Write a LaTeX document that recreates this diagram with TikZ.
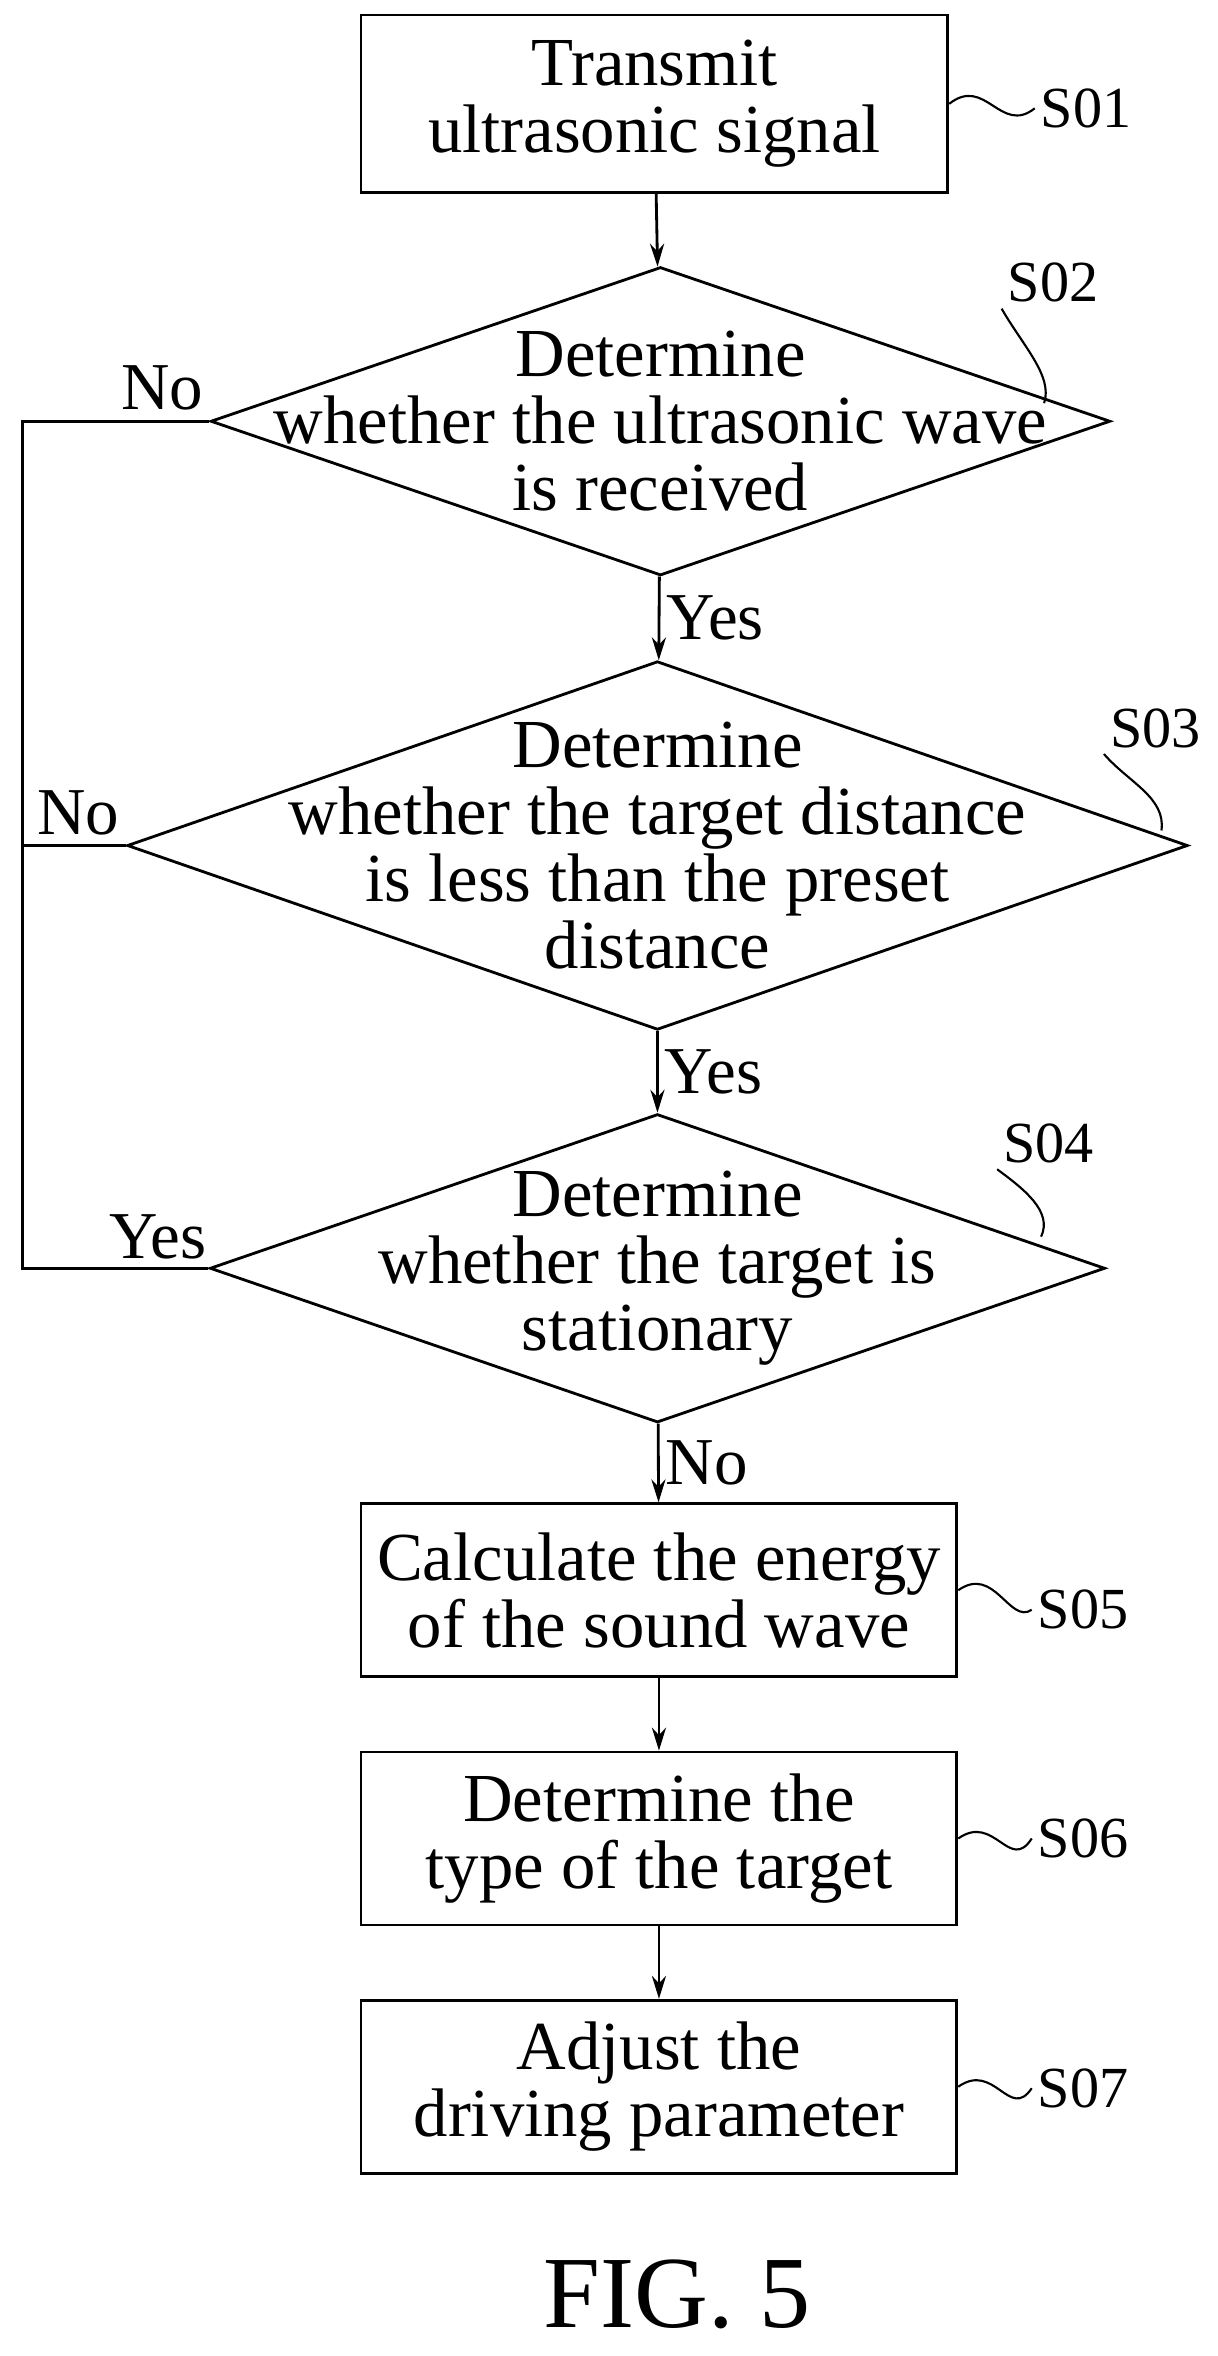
\documentclass[tikz,border=0pt]{standalone}
\usepackage{fontspec}
\setmainfont{Liberation Serif}
\usetikzlibrary{arrows.meta,positioning,shapes.geometric}
\tikzset{
    proc/.style={draw, rectangle, line width=1.6pt, inner sep=0pt},
    test/.style={draw, diamond, line width=1.6pt, inner sep=0pt},
    words/.style={align=center, font=\fontsize{39}{38}\selectfont},
    tag/.style={font=\fontsize{33}{36}\selectfont},
    ans/.style={font=\fontsize{38}{40}\selectfont},
    flow/.style={line width=1.6pt, -{Stealth[length=13pt,width=8pt]}},
    link/.style={line width=1.6pt},
    wig/.style={line width=1.2pt}
}
\begin{document}
\begin{tikzpicture}[x=0.03cm,y=-0.03cm]
\useasboundingbox (0,0) rectangle (809,1566);
% process steps
\node[proc, minimum width=390*0.03cm, minimum height=118*0.03cm] (Transmit) at (435,69) {};
\node[words] at (Transmit) {Transmit\\ultrasonic signal};
\node[test, minimum width=598*0.03cm, minimum height=205*0.03cm] (Received) at (439,280) {};
\node[words] at (Received) {Determine\\whether the ultrasonic wave\\is received};
\node[test, minimum width=705*0.03cm, minimum height=245*0.03cm] (Distance) at (437,562) {};
\node[words] at (Distance) {Determine\\whether the target distance\\is less than the preset\\distance};
\node[test, minimum width=595*0.03cm, minimum height=205*0.03cm] (Stationary) at (437,843) {};
\node[words] at (Stationary) {Determine\\whether the target is\\stationary};
\node[proc, minimum width=396*0.03cm, minimum height=115*0.03cm] (Energy) at (438,1057) {};
\node[words] at (Energy) {Calculate the energy\\of the sound wave};
\node[proc, minimum width=396*0.03cm, minimum height=115*0.03cm] (Type) at (438,1222) {};
\node[words] at (Type) {Determine the\\type of the target};
\node[proc, minimum width=396*0.03cm, minimum height=115*0.03cm] (Adjust) at (438,1387) {};
\node[words] at (Adjust) {Adjust the\\driving parameter};
% step labels
\node[tag] (s1) at (722,72) {S01};
\node[tag] (s2) at (700,188) {S02};
\node[tag] (s3) at (768,484) {S03};
\node[tag] (s4) at (697,760) {S04};
\node[tag] (s5) at (720,1070) {S05};
\node[tag] (s6) at (720,1222) {S06};
\node[tag] (s7) at (720,1388) {S07};
\draw[wig] (Transmit.east) .. controls (655,50) and (665,90) .. (s1.west);
\draw[wig] (Energy.east) .. controls (661,1040) and (671,1080) .. (s5.west);
\draw[wig] (Type.east) .. controls (661,1205) and (671,1245) .. (s6.west);
\draw[wig] (Adjust.east) .. controls (661,1370) and (671,1410) .. (s7.west);
\draw[wig] (s2.south west) .. controls (680,230) and (700,250) .. (694,268);
\draw[wig] (s3.south west) .. controls (750,520) and (775,530) .. (772,552);
\draw[wig] (s4.south west) .. controls (680,790) and (700,805) .. (692,822);
% arrows
\draw[flow] (Transmit) -- (Received);
\draw[flow] (Received) -- node[ans, right] {Yes} (Distance);
\draw[flow] (Distance) -- node[ans, right] {Yes} (Stationary);
\draw[flow] (Stationary) -- node[ans, right] {No} (Energy);
\draw[flow] (Energy) -- (Type);
\draw[flow] (Type) -- (Adjust);
% left return line
\coordinate (top) at (15,280);
\draw[link] (Received.west) -- (top) |- (Stationary.west);
\draw[link] (Distance.west) -- (Distance.west -| top);
\node[ans] at (108,258) {No};
\node[ans] at (52,540) {No};
\node[ans] at (105,822) {Yes};
\node[font=\fontsize{58}{60}\selectfont] (fig) at (450,1525) {FIG. 5};
\end{tikzpicture}
\end{document}
